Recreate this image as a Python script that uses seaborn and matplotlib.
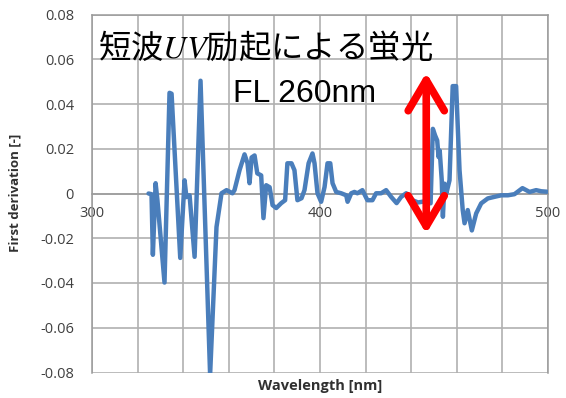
import matplotlib
matplotlib.use("Agg")
import matplotlib.pyplot as plt
import seaborn as sns
import pandas as pd

# ---- data ----
wavelength = [324.8, 326.1, 326.7, 327.9, 328.7, 331.8, 334.0, 334.9, 338.7, 340.6,
              341.4, 342.8, 345.0, 347.6, 351.8, 354.6, 356.8, 359.0, 361.6, 362.5,
              364.7, 366.9, 368.2, 369.1, 370.0, 371.3, 372.5, 374.2, 375.2, 376.4,
              377.9, 379.2, 380.8, 383.0, 384.7, 385.7, 387.5, 388.8, 390.1, 391.9,
              393.2, 395.0, 396.7, 397.6, 398.9, 400.5, 402.0, 403.3, 404.5, 405.5,
              407.1, 409.3, 411.5, 412.1, 413.7, 415.1, 416.4, 418.6, 420.8, 423.0,
              424.6, 426.8, 429.0, 431.2, 433.6, 435.6, 437.8, 438.8, 440.6, 443.0,
              446.0, 448.5, 449.5, 450.5, 451.4, 452.0, 452.5, 453.4, 453.9, 454.6,
              455.4, 456.8, 458.2, 459.7, 461.2, 462.6, 463.4, 464.8, 466.6, 468.5,
              470.7, 473.6, 476.5, 479.5, 482.4, 485.3, 488.8, 491.9, 494.8, 497.0,
              499.5]
derivative = [0.0000, -0.0003, -0.0274, 0.0046, -0.0030, -0.0398, 0.0450, 0.0446, -0.0288, 0.0059,
              -0.0016, -0.0008, -0.0283, 0.0504, -0.0810, -0.0150, 0.0001, 0.0015, 0.0001, 0.0015,
              0.0104, 0.0175, 0.0135, 0.0046, 0.0161, 0.0170, 0.0090, 0.0081, -0.0110, 0.0037,
              0.0028, -0.0052, -0.0065, -0.0043, -0.0030, 0.0135, 0.0135, 0.0104, -0.0030, -0.0021,
              0.0015, 0.0135, 0.0179, 0.0135, 0.0001, -0.0037, 0.0029, 0.0135, 0.0135, 0.0046,
              0.0007, 0.0001, -0.0008, -0.0037, 0.0001, 0.0007, 0.0001, 0.0015, -0.0030, -0.0030,
              0.0001, 0.0001, 0.0015, -0.0015, -0.0043, -0.0015, 0.0001, -0.0008, -0.0030, -0.0040,
              -0.0035, -0.0044, 0.0289, 0.0259, 0.0237, 0.0163, 0.0192, 0.0059, -0.0104, 0.0044,
              0.0000, 0.0059, 0.0480, 0.0480, 0.0104, -0.0074, -0.0133, -0.0074, -0.0165, -0.0089,
              -0.0044, -0.0022, -0.0015, -0.0008, -0.0008, -0.0003, 0.0024, 0.0007, 0.0015, 0.0010,
              0.0008]

y_ticks = [0.08, 0.06, 0.04, 0.02, 0.0, -0.02, -0.04, -0.06, -0.08]
y_tick_labels = ["0.08", "0.06", "0.04", "0.02", "0", "-0.02", "-0.04", "-0.06", "-0.08"]
x_ticks = [300, 400, 500]
x_tick_labels = ["300", "400", "500"]
x_grid = [300, 320, 340, 360, 380, 400, 420, 440, 460, 480, 500]

title_text = "短波$UV$励起による蛍光"
note_text = "FL 260nm"
x_label = "Wavelength [nm]"
y_label = "First derivation [-]"
arrow_wavelength = 446.6
arrow_top = 0.0540
arrow_bottom = -0.0180

# ---- drawing ----
sns.set_style("white")
plt.rcParams["font.family"] = ["Open Sans", "DejaVu Sans"]
plt.rcParams["mathtext.fontset"] = "stix"

df = pd.DataFrame({"wavelength": wavelength, "derivative": derivative})

W, H = 566, 398
fig = plt.figure(figsize=(W / 100, H / 100), dpi=100)
left, right, top, bottom = 92, 548, 14.5, 372.5
ax = fig.add_axes([left / W, 1 - bottom / H, (right - left) / W, (bottom - top) / H])

# move the x axis line to y = 0 first (this resets the x ticks)
ax.spines["bottom"].set_position(("data", 0))
edge_col = "#9a9a9a"
grid_col = "#b0b0b0"
for s in ["left", "right", "top", "bottom"]:
    ax.spines[s].set_color(edge_col)
    ax.spines[s].set_linewidth(1.1)

# grid lines at every tick / grid position
for gx in x_grid:
    ax.axvline(gx, color=grid_col, lw=1.2, zorder=0.5)
for gy in y_ticks:
    ax.axhline(gy, color=grid_col, lw=1.2, zorder=0.5)

sns.lineplot(data=df, x="wavelength", y="derivative", ax=ax, color="#4a7ebb",
             lw=3.2, sort=False, estimator=None, zorder=3)

ax.set_xlim(300, 500)
ax.set_ylim(-0.08, 0.08)
ax.set_xticks(x_ticks)
ax.set_xticklabels(x_tick_labels)
ax.set_yticks(y_ticks)
ax.set_yticklabels(y_tick_labels)
ax.grid(False)
ax.tick_params(which="both", length=0, labelsize=10.5, colors="#404040")
ax.tick_params(axis="y", pad=13)
ax.tick_params(axis="x", pad=9)

ax.set_xlabel("")
ax.set_ylabel("")
fig.text(320 / W, 1 - 386 / H, x_label, ha="center", va="center",
         fontsize=10.5, fontweight="bold", color="#303030")
fig.text(15 / W, 1 - 193 / H, y_label, ha="center", va="center", rotation=90,
         fontsize=9.5, fontweight="bold", color="#303030")

fig.text(98 / W, 1 - 48 / H, title_text, ha="left", va="center", fontsize=23.3,
         family=["Noto Sans CJK JP", "DejaVu Sans"], color="black")
fig.text(233 / W, 1 - 94 / H, note_text, ha="left", va="center", fontsize=23,
         family=["Liberation Sans", "DejaVu Sans"], color="black")

ax.annotate("", xy=(arrow_wavelength, arrow_top), xytext=(arrow_wavelength, arrow_bottom),
            arrowprops=dict(arrowstyle="<->, head_length=2.2, head_width=1.3",
                            color="#ff0000", lw=5.5, shrinkA=0, shrinkB=0),
            zorder=5)

fig.savefig("out.png", dpi=100)
